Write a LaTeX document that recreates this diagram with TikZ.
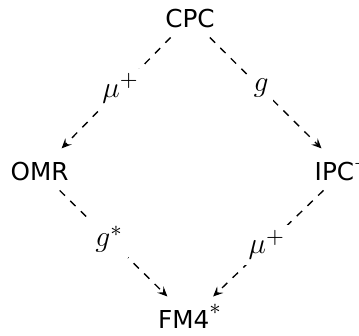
\documentclass[tikz,border=0pt]{standalone}
\usepackage{fontspec}
\setsansfont{DejaVu Sans}[Scale=0.8]
\usetikzlibrary{arrows.meta}
\begin{document}
\begin{tikzpicture}[x=0.405pt,y=-0.405pt,
  font=\fontsize{12.5}{15}\selectfont,
  obj/.style={font=\fontsize{12.5}{15}\selectfont\sffamily, text height=7.5pt, text depth=0pt, inner sep=3.33pt},
  link/.style={dashed, line width=0.55pt, -{Stealth[length=4pt, width=3.6pt, inset=1.6pt]}, shorten <=1pt, shorten >=2.5pt},
  lab/.style={fill=white, inner sep=2pt}]
\useasboundingbox (0,0) rectangle (359,335);
\node[obj, anchor=base] (cpc) at (190,27) {CPC};
\node[obj, anchor=base west] (omr) at (2,180) {OMR};
\node[obj, anchor=base west] (ipc) at (306,180) {IPC$^{+}$};
\node[obj, anchor=base] (fm4) at (190,328) {FM4$^{\raisebox{1.3pt}{$\scriptstyle\ast$}}$};
\draw[link] (cpc) -- node[lab, pos=0.45] {$\mu^{+}$} (omr);
\draw[link] (cpc) -- node[lab, pos=0.45] {$g$} (ipc);
\draw[link] (omr) -- node[lab, pos=0.45] {$g^{\ast}$} (fm4);
\draw[link] (ipc) -- node[lab, pos=0.5] {$\mu^{+}$} (fm4);
\end{tikzpicture}
\end{document}
